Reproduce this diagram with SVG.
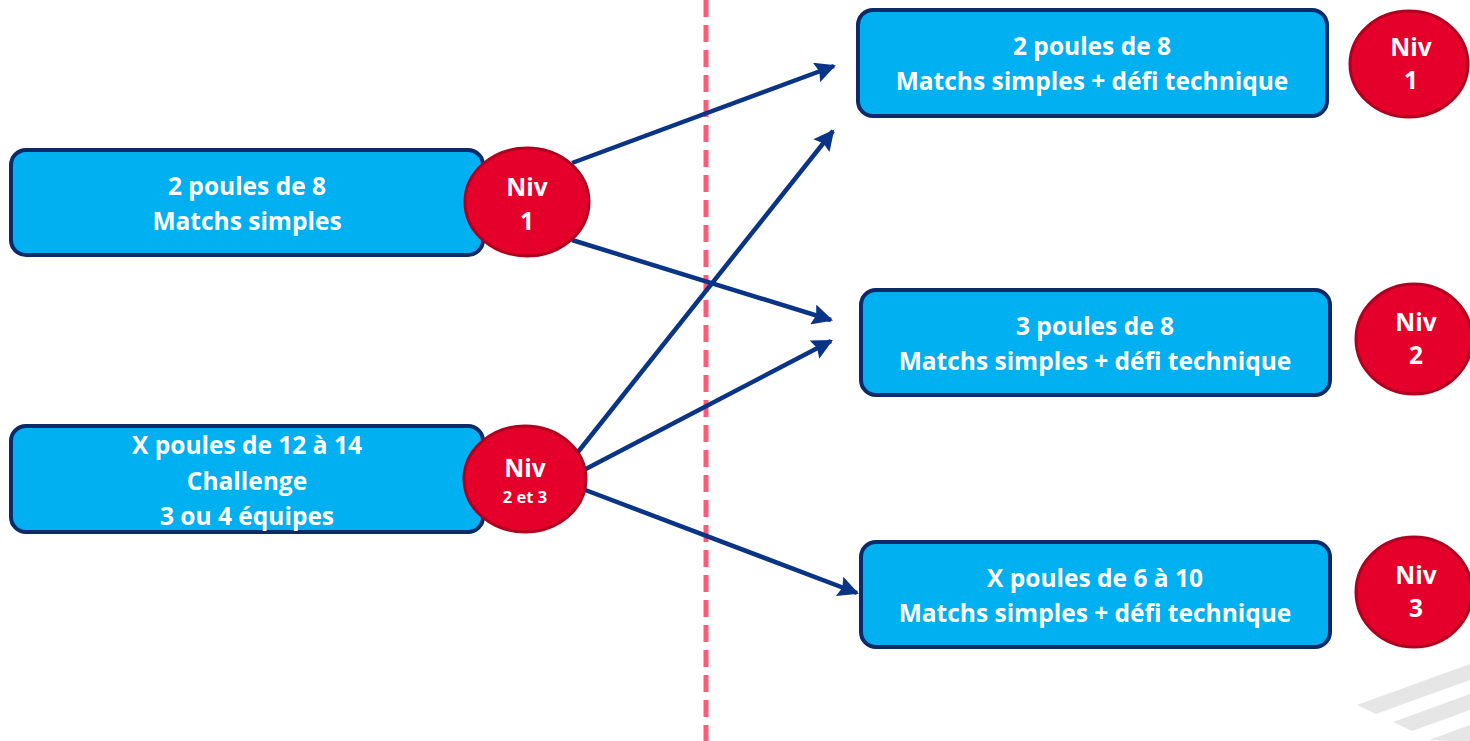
<svg xmlns="http://www.w3.org/2000/svg" width="1470" height="741" viewBox="0 0 1470 741">
<defs>
<style>
.box{fill:#00b0f0;stroke:#0b2a6a;stroke-width:4}
.niv{fill:#e4002b;stroke:#b00020;stroke-width:3}
.t{font-family:"Open Sans","Liberation Sans",sans-serif;font-weight:700;fill:#ffffff;text-anchor:middle;font-size:24.5px}
.s{font-size:16.5px}
.arr{stroke:#0a3486;stroke-width:4.5;fill:none;marker-end:url(#ah)}
.stripe{fill:#e6e6e6}
</style>
<marker id="ah" viewBox="0 0 10 10" refX="9" refY="5" markerWidth="5.2" markerHeight="4.6" markerUnits="strokeWidth" orient="auto">
<path d="M0,0 L10,5 L0,10 L1.5,5 Z" fill="#0a3486"/>
</marker>
</defs>
<rect width="1470" height="741" fill="#ffffff"/>
<g id="stripes">
<polygon class="stripe" points="1357,705 1470,664 1470,680 1376,714"/>
<polygon class="stripe" points="1393,722 1470,694 1470,710 1412,731"/>
<polygon class="stripe" points="1429,740 1470,725 1470,741 1450,741"/>
</g>
<line id="divider" x1="706" y1="0" x2="706" y2="741" stroke="#ff5a78" stroke-width="5" stroke-dasharray="17 8"/>
<g id="connectors">
<line class="arr" x1="572" y1="163" x2="834" y2="66"/>
<line class="arr" x1="572" y1="240" x2="831" y2="320"/>
<line class="arr" x1="578" y1="452" x2="833" y2="131"/>
<line class="arr" x1="580" y1="472" x2="831" y2="341"/>
<line class="arr" x1="580" y1="488" x2="857" y2="593"/>
</g>
<g id="box-left-1">
<rect class="box" x="11" y="150" width="472" height="105" rx="15"/>
<text class="t" x="247" y="195">2 poules de 8</text>
<text class="t" x="247" y="230">Matchs simples</text>
</g>
<g id="niv-left-1">
<ellipse class="niv" cx="527" cy="202" rx="62" ry="54"/>
<text class="t" x="527" y="196">Niv</text>
<text class="t" x="527" y="230">1</text>
</g>
<g id="box-left-2">
<rect class="box" x="11" y="426" width="472" height="106" rx="15"/>
<text class="t" x="247" y="454">X poules de 12 à 14</text>
<text class="t" x="247" y="490">Challenge</text>
<text class="t" x="247" y="525">3 ou 4 équipes</text>
</g>
<g id="niv-left-2">
<ellipse class="niv" cx="525" cy="479" rx="61" ry="53"/>
<text class="t" x="525" y="477">Niv</text>
<text class="t s" x="525" y="503">2 et 3</text>
</g>
<g id="box-right-1">
<rect class="box" x="858" y="10" width="469" height="106" rx="15"/>
<text class="t" x="1092" y="55">2 poules de 8</text>
<text class="t" x="1092" y="90">Matchs simples + défi technique</text>
</g>
<g id="niv-right-1">
<ellipse class="niv" cx="1409" cy="64" rx="59" ry="53"/>
<text class="t" x="1411" y="56">Niv</text>
<text class="t" x="1411" y="89">1</text>
</g>
<g id="box-right-2">
<rect class="box" x="861" y="290" width="469" height="105" rx="15"/>
<text class="t" x="1095" y="335">3 poules de 8</text>
<text class="t" x="1095" y="370">Matchs simples + défi technique</text>
</g>
<g id="niv-right-2">
<ellipse class="niv" cx="1414" cy="339" rx="58" ry="55"/>
<text class="t" x="1416" y="331">Niv</text>
<text class="t" x="1416" y="364">2</text>
</g>
<g id="box-right-3">
<rect class="box" x="861" y="542" width="469" height="105" rx="15"/>
<text class="t" x="1095" y="587">X poules de 6 à 10</text>
<text class="t" x="1095" y="622">Matchs simples + défi technique</text>
</g>
<g id="niv-right-3">
<ellipse class="niv" cx="1414" cy="592" rx="58" ry="55"/>
<text class="t" x="1416" y="584">Niv</text>
<text class="t" x="1416" y="617">3</text>
</g>
</svg>
